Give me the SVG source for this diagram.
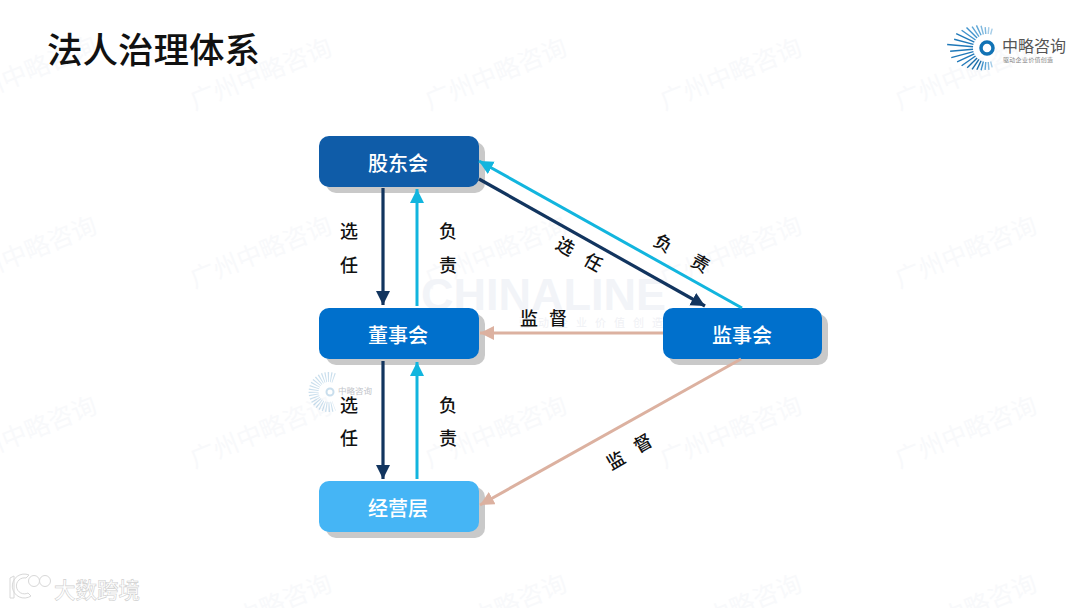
<svg xmlns="http://www.w3.org/2000/svg" xmlns:xlink="http://www.w3.org/1999/xlink" width="1080" height="608" viewBox="0 0 1080 608">
<style>
text{font-family:"Noto Sans CJK SC","Liberation Sans",sans-serif}
.wm{font-size:25px;fill:#f8f9fb;text-anchor:middle;dominant-baseline:central}
.nt{font-size:20px;font-weight:500;fill:#fff;text-anchor:middle;dominant-baseline:central}
.lb{font-size:18px;font-weight:500;fill:#111;text-anchor:middle;dominant-baseline:central}
.sh{fill:#c9c9c9}
.dk{stroke:#12355f;stroke-width:3.2;fill:none}
.cy{stroke:#12b5de;stroke-width:3;fill:none}
.pk{stroke:#dcb1a0;stroke-width:3;fill:none}
.ray{stroke-width:1.4}
</style>
<defs>
<marker id="hd" markerUnits="userSpaceOnUse" markerWidth="16" markerHeight="16" refX="14" refY="7" orient="auto"><path d="M0 0L14 7L0 14z" fill="#12355f"/></marker>
<marker id="hc" markerUnits="userSpaceOnUse" markerWidth="16" markerHeight="16" refX="14" refY="7" orient="auto"><path d="M0 0L14 7L0 14z" fill="#12b5de"/></marker>
<marker id="hp" markerUnits="userSpaceOnUse" markerWidth="16" markerHeight="16" refX="14" refY="7" orient="auto"><path d="M0 0L14 7L0 14z" fill="#dcb1a0"/></marker>
<text id="w" class="wm" transform="rotate(-22)">广州中略咨询</text>
</defs>
<rect width="1080" height="608" fill="#fff"/>
<g id="watermarks">
<use xlink:href="#w" x="25" y="70"/><use xlink:href="#w" x="260" y="72"/><use xlink:href="#w" x="495" y="72"/><use xlink:href="#w" x="730" y="72"/><use xlink:href="#w" x="965" y="72"/>
<use xlink:href="#w" x="25" y="250"/><use xlink:href="#w" x="260" y="250"/><use xlink:href="#w" x="495" y="250"/><use xlink:href="#w" x="730" y="250"/><use xlink:href="#w" x="965" y="250"/>
<use xlink:href="#w" x="25" y="430"/><use xlink:href="#w" x="260" y="430"/><use xlink:href="#w" x="495" y="430"/><use xlink:href="#w" x="730" y="430"/><use xlink:href="#w" x="965" y="430"/>
<use xlink:href="#w" x="260" y="608"/><use xlink:href="#w" x="495" y="608"/><use xlink:href="#w" x="730" y="608"/><use xlink:href="#w" x="965" y="608"/>
<text x="543.5" y="310" font-size="45" font-weight="700" fill="#f2f4f8" text-anchor="middle" style="font-family:'Liberation Sans',sans-serif">CHINALINE</text>
<text x="519" y="322" font-size="11" fill="#f0f1f5" letter-spacing="8" dominant-baseline="central">驱动企业价值创造</text>
<g id="faint-logo" opacity="0.22" transform="translate(330,392)"><circle r="3.5" fill="none" stroke="#0f6fb0" stroke-width="2"/><path d="M4 -14A15 15 0 1 0 4 14" fill="none" stroke="#0f6fb0" stroke-width="10" stroke-dasharray="1 1.6"/></g>
<text x="338" y="390" font-size="8.5" fill="#c2c5ca" dominant-baseline="central">中略咨询</text>
</g>
<text id="title" x="47" y="47" font-size="35.5" font-weight="500" fill="#111" dominant-baseline="central">法人治理体系</text>
<g id="logo">
<g transform="translate(987,48)" stroke="#1f78b8" class="ray">
<line x1="-14" x2="-20" transform="rotate(105)" stroke="#a5cde8"/><line x1="-14" x2="-21" transform="rotate(95)" stroke="#a5cde8"/><line x1="-14" x2="-21" transform="rotate(85)" stroke="#7fb8de"/><line x1="-14" x2="-23" transform="rotate(75)" stroke="#7fb8de"/><line x1="-14" x2="-25" transform="rotate(65)" stroke="#5ea6d6"/><line x1="-14" x2="-26" transform="rotate(55)" stroke="#5ea6d6"/><line x1="-14" x2="-29" transform="rotate(45)" stroke="#3f92cc"/><line x1="-14" x2="-31" transform="rotate(35)" stroke="#3f92cc"/><line x1="-14" x2="-34" transform="rotate(25)"/><line x1="-14" x2="-34" transform="rotate(15)"/><line x1="-14" x2="-40" transform="rotate(5)"/><line x1="-14" x2="-37" transform="rotate(-5)"/><line x1="-14" x2="-37" transform="rotate(-15)"/><line x1="-14" x2="-33" transform="rotate(-25)"/><line x1="-14" x2="-31" transform="rotate(-35)"/><line x1="-14" x2="-28" transform="rotate(-45)" stroke="#1a6eaa"/><line x1="-14" x2="-26" transform="rotate(-55)" stroke="#1a6eaa"/><line x1="-14" x2="-24" transform="rotate(-65)" stroke="#1a6eaa"/><line x1="-14" x2="-23" transform="rotate(-75)" stroke="#3f92cc"/><line x1="-14" x2="-22" transform="rotate(-85)" stroke="#5ea6d6"/><line x1="-14" x2="-22" transform="rotate(-95)" stroke="#7fb8de"/><line x1="-14" x2="-20" transform="rotate(-105)" stroke="#a5cde8"/>
</g>
<circle cx="987" cy="48" r="6" fill="#fff" stroke="#1273b5" stroke-width="3.5"/>
<text x="1002" y="45" font-size="16" fill="#555" dominant-baseline="central">中略咨询</text>
<text x="1003" y="59" font-size="6" fill="#888" dominant-baseline="central" letter-spacing="0.3">驱动企业价值创造</text>
</g>
<g id="node-gudong"><rect class="sh" x="326" y="142" width="159" height="51" rx="10"/><rect x="319" y="136" width="160" height="51" rx="10" fill="#0f5ca8"/><text class="nt" x="398" y="162">股东会</text></g>
<g id="node-dongshi"><rect class="sh" x="326" y="314" width="159" height="51" rx="10"/><rect x="319" y="308" width="160" height="51" rx="10" fill="#0070cc"/><text class="nt" x="398" y="334">董事会</text></g>
<g id="node-jianshi"><rect class="sh" x="669" y="314" width="159" height="51" rx="10"/><rect x="663" y="308" width="159" height="51" rx="10" fill="#0070cc"/><text class="nt" x="742" y="334">监事会</text></g>
<g id="node-jingying"><rect class="sh" x="326" y="487" width="159" height="51" rx="10"/><rect x="319" y="481" width="160" height="51" rx="10" fill="#45b5f5"/><text class="nt" x="398" y="507">经营层</text></g>
<g id="connectors">
<path class="dk" marker-end="url(#hd)" d="M383 188V305"/>
<path class="cy" marker-end="url(#hc)" d="M417 306V189"/>
<path class="dk" marker-end="url(#hd)" d="M383 361V479"/>
<path class="cy" marker-end="url(#hc)" d="M417 479V362"/>
<path class="cy" marker-end="url(#hc)" d="M742 308L479 161"/>
<path class="dk" marker-end="url(#hd)" d="M479 179L705 306"/>
<path class="pk" marker-end="url(#hp)" d="M663 333H480"/>
<path class="pk" marker-end="url(#hp)" d="M741 359L480 505"/>
</g>
<g id="labels">
<text class="lb" x="349" y="230">选</text><text class="lb" x="349" y="264">任</text>
<text class="lb" x="448" y="230">负</text><text class="lb" x="448" y="264">责</text>
<text class="lb" x="349" y="404">选</text><text class="lb" x="349" y="437">任</text>
<text class="lb" x="448" y="404">负</text><text class="lb" x="448" y="437">责</text>
<text class="lb" transform="translate(566,245) rotate(30)">选</text><text class="lb" transform="translate(594,261) rotate(30)">任</text>
<text class="lb" transform="translate(664,242) rotate(30)">负</text><text class="lb" transform="translate(701,262) rotate(30)">责</text>
<text class="lb" x="529" y="317">监</text><text class="lb" x="558" y="317">督</text>
<text class="lb" transform="translate(615,459) rotate(-30)">监</text><text class="lb" transform="translate(642,442) rotate(-30)">督</text>
</g>
<g id="corner-mark" fill="none" stroke="#d8d8d8" stroke-width="1">
<path d="M10 578l4 -2v22h-4zM29 575a12 12 0 1 0 2 21l-3-3a8 8 0 1 1-2-15z" fill="#fff"/>
<circle cx="34" cy="581" r="5.5" fill="#fff"/><circle cx="45" cy="581" r="5.5" fill="#fff"/>
<text x="54" y="588" font-size="21.5" font-weight="500" fill="#fff" stroke="#cfcfcf" stroke-width="0.6" dominant-baseline="central">大数跨境</text>
</g>
</svg>
